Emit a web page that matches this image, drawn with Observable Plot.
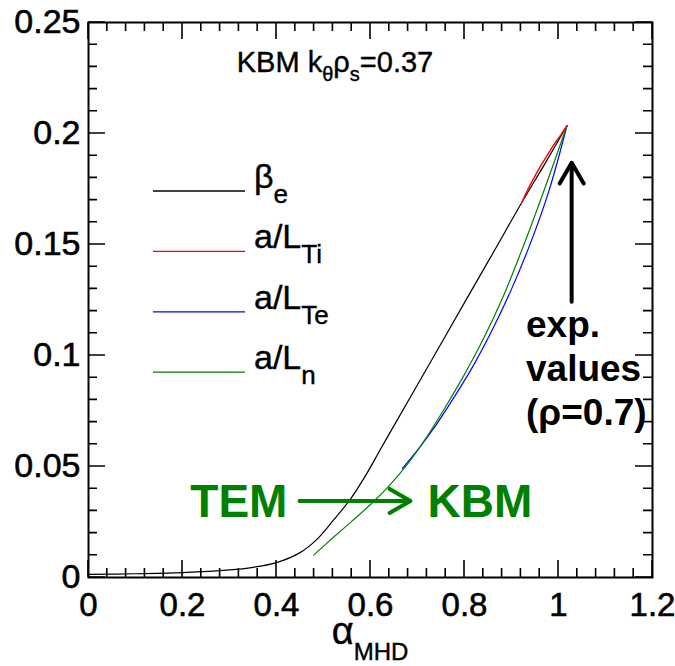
<!DOCTYPE html>
<html><head><meta charset="utf-8">
<script src="https://cdn.jsdelivr.net/npm/d3@7"></script>
<script src="https://cdn.jsdelivr.net/npm/@observablehq/plot@0.6"></script>
<style>body{margin:0;background:#fff}</style>
</head><body><div id="chart"></div>
<script>
// ---- data ----
const betaAlpha = [0, 0.1, 0.2, 0.3, 0.35, 0.4, 0.45, 0.486, 0.521, 0.557, 0.592, 0.62, 0.65, 0.7, 0.8, 0.864, 0.921, 0.97, 1.018];
const betaValue = [0.0014, 0.0017, 0.0022, 0.0034, 0.0046, 0.0067, 0.0112, 0.0172, 0.0258, 0.0352, 0.0468, 0.0573, 0.0684, 0.0868, 0.1238, 0.1474, 0.1686, 0.186, 0.2035];

const tiAlpha = [0.921, 0.935, 0.949, 0.962, 0.974, 0.99, 1.005, 1.018];
const tiValue = [0.1686, 0.1749, 0.1805, 0.1854, 0.1895, 0.1949, 0.1994, 0.2035];

const teAlpha = [0.668, 0.70, 0.74, 0.78, 0.82, 0.86, 0.90, 0.94, 0.98, 1.018];
const teValue = [0.0492, 0.0574, 0.0689, 0.0819, 0.0959, 0.1119, 0.1299, 0.1504, 0.1744, 0.2035];

const nAlpha = [0.479, 0.52, 0.56, 0.60, 0.64, 0.68, 0.72, 0.76, 0.80, 0.84, 0.88, 0.92, 0.96, 1.018];
const nValue = [0.0101, 0.0179, 0.0253, 0.0329, 0.0414, 0.0514, 0.0634, 0.077, 0.0915, 0.1074, 0.1254, 0.1464, 0.1689, 0.2035];

const xTicks = [0, 0.2, 0.4, 0.6, 0.8, 1, 1.2];
const yTicks = [0, 0.05, 0.1, 0.15, 0.2, 0.25];
const xMinorTicks = [0.04, 0.08, 0.12, 0.16, 0.24, 0.28, 0.32, 0.36, 0.44, 0.48, 0.52, 0.56, 0.64, 0.68, 0.72, 0.76, 0.84, 0.88, 0.92, 0.96, 1.04, 1.08, 1.12, 1.16];
const yMinorTicks = [0.01, 0.02, 0.03, 0.04, 0.06, 0.07, 0.08, 0.09, 0.11, 0.12, 0.13, 0.14, 0.16, 0.17, 0.18, 0.19, 0.21, 0.22, 0.23, 0.24];

const legendNames = ["β", "a/L", "a/L", "a/L"];
const legendSubs = ["e", "Ti", "Te", "n"];
const seriesColors = ["#000000", "#ff0000", "#0000ff", "#008000"];

const titleText = ["KBM k", "θ", "ρ", "s", "=0.37"];
const xLabel = ["α", "MHD"];
const expLines = ["exp.", "values", "(ρ=0.7)"];

// ---- layout ----
const W = 675, H = 666;
const FONT = "'Liberation Sans', Arial, Helvetica, sans-serif";
const MAJ = 17, MIN = 9;
const xDom = [0, 1.2], yDom = [0, 0.25];

const toRows = (a, v) => a.map((x, i) => ({x, y: v[i]}));
const green = "#008000";
const arrowRows = [
  {x1: 0.449, y1: 0.0345, x2: 0.685, y2: 0.0345, c: green},
  {x1: 1.028, y1: 0.1242, x2: 1.028, y2: 0.1868, c: "#000000"}
];

const chart = Plot.plot({
  width: W, height: H,
  marginTop: 22, marginRight: 23, marginBottom: 89, marginLeft: 88,
  x: {domain: xDom},
  y: {domain: yDom},
  marks: [
    Plot.frame({stroke: "black", strokeWidth: 2}),
    Plot.axisX({ticks: xTicks, tickSize: 0, tickPadding: 15, fontSize: 33, fontFamily: FONT, tickFormat: v => String(v), label: null}),
    Plot.axisY({ticks: yTicks, tickSize: 0, tickPadding: 8, fontSize: 34, fontFamily: FONT, tickFormat: v => String(v), label: null}),
    Plot.line(toRows(betaAlpha, betaValue), {x: "x", y: "y", stroke: seriesColors[0], strokeWidth: 1.2, curve: "catmull-rom"}),
    Plot.line(toRows(teAlpha, teValue), {x: "x", y: "y", stroke: seriesColors[2], strokeWidth: 1.2, curve: "catmull-rom"}),
    Plot.line(toRows(nAlpha, nValue), {x: "x", y: "y", stroke: seriesColors[3], strokeWidth: 1.2, curve: "catmull-rom"}),
    Plot.line(toRows(tiAlpha, tiValue), {x: "x", y: "y", stroke: seriesColors[1], strokeWidth: 1.4, curve: "catmull-rom"}),
    Plot.arrow(arrowRows, {x1: "x1", y1: "y1", x2: "x2", y2: "y2", stroke: "c", strokeWidth: 4, headAngle: 60, headLength: 9})
  ]
});
document.getElementById("chart").appendChild(chart);

const sx = chart.scale("x"), sy = chart.scale("y");
const root = d3.select(chart);
const bx0 = sx.apply(xDom[0]), bx1 = sx.apply(xDom[1]), by0 = sy.apply(yDom[0]), by1 = sy.apply(yDom[1]);

// inward ticks on all four sides
const tickPath = [];
const pushX = (vals, len) => vals.forEach(v => {
  const px = sx.apply(v);
  tickPath.push(`M${px},${by0}V${by0 - len}`, `M${px},${by1}V${by1 + len}`);
});
const pushY = (vals, len) => vals.forEach(v => {
  const py = sy.apply(v);
  tickPath.push(`M${bx0},${py}H${bx0 + len}`, `M${bx1},${py}H${bx1 - len}`);
});
pushX(xTicks, MAJ); pushX(xMinorTicks, MIN); pushY(yTicks, MAJ); pushY(yMinorTicks, MIN);
root.append("path").attr("d", tickPath.join("")).attr("fill", "none")
  .attr("stroke", "black").attr("stroke-width", 1.6);

// heavier tick labels
root.selectAll("g[aria-label$='tick label'] text").attr("stroke", "black").attr("stroke-width", 0.6);

// title with subscripts
const t = root.append("text").attr("x", 335).attr("y", 72)
  .attr("text-anchor", "middle").attr("font-family", FONT).attr("font-size", 29).attr("fill", "#000")
  .attr("stroke", "#000").attr("stroke-width", 0.4);
t.append("tspan").text(titleText[0]);
t.append("tspan").text(titleText[1]).attr("font-size", 20).attr("dy", 9);
t.append("tspan").text(titleText[2]).attr("dy", -9);
t.append("tspan").text(titleText[3]).attr("font-size", 20).attr("dy", 9);
t.append("tspan").text(titleText[4]).attr("dy", -9);

// legend
const legX1 = 153, legX2 = 245, legY0 = 191, legStep = 60.4;
legendNames.forEach((name, i) => {
  const ly = legY0 + i * legStep;
  root.append("line").attr("x1", legX1).attr("x2", legX2).attr("y1", ly).attr("y2", ly)
    .attr("stroke", seriesColors[i]).attr("stroke-width", 1.3);
  const tx = root.append("text").attr("x", 254).attr("y", ly - 3).attr("text-anchor", "start")
    .attr("font-family", FONT).attr("font-size", 34).attr("fill", "#000")
    .attr("stroke", "#000").attr("stroke-width", 0.4);
  tx.append("tspan").text(name);
  tx.append("tspan").text(legendSubs[i]).attr("font-size", 26).attr("dy", 15);
});

// x label alpha_MHD
const xl = root.append("text").attr("x", 370).attr("y", 644)
  .attr("text-anchor", "middle").attr("font-family", FONT).attr("font-size", 38).attr("fill", "#000")
  .attr("stroke", "#000").attr("stroke-width", 0.4);
xl.append("tspan").text(xLabel[0]);
xl.append("tspan").text(xLabel[1]).attr("font-size", 24).attr("dy", 16);

// TEM -> KBM
root.append("text").attr("x", sx.apply(0.321)).attr("y", 517).attr("text-anchor", "middle")
  .attr("font-family", FONT).attr("font-weight", "bold").attr("font-size", 46).attr("fill", green).text("TEM");
root.append("text").attr("x", 480).attr("y", 517).attr("text-anchor", "middle")
  .attr("font-family", FONT).attr("font-weight", "bold").attr("font-size", 46).attr("fill", green).text("KBM");

// exp. values
expLines.forEach((s, i) => {
  root.append("text").attr("x", 526).attr("y", 337 + i * 44).attr("text-anchor", "start")
    .attr("font-family", FONT).attr("font-weight", "bold").attr("font-size", 37).attr("fill", "#000").text(s);
});
</script>
</body></html>
